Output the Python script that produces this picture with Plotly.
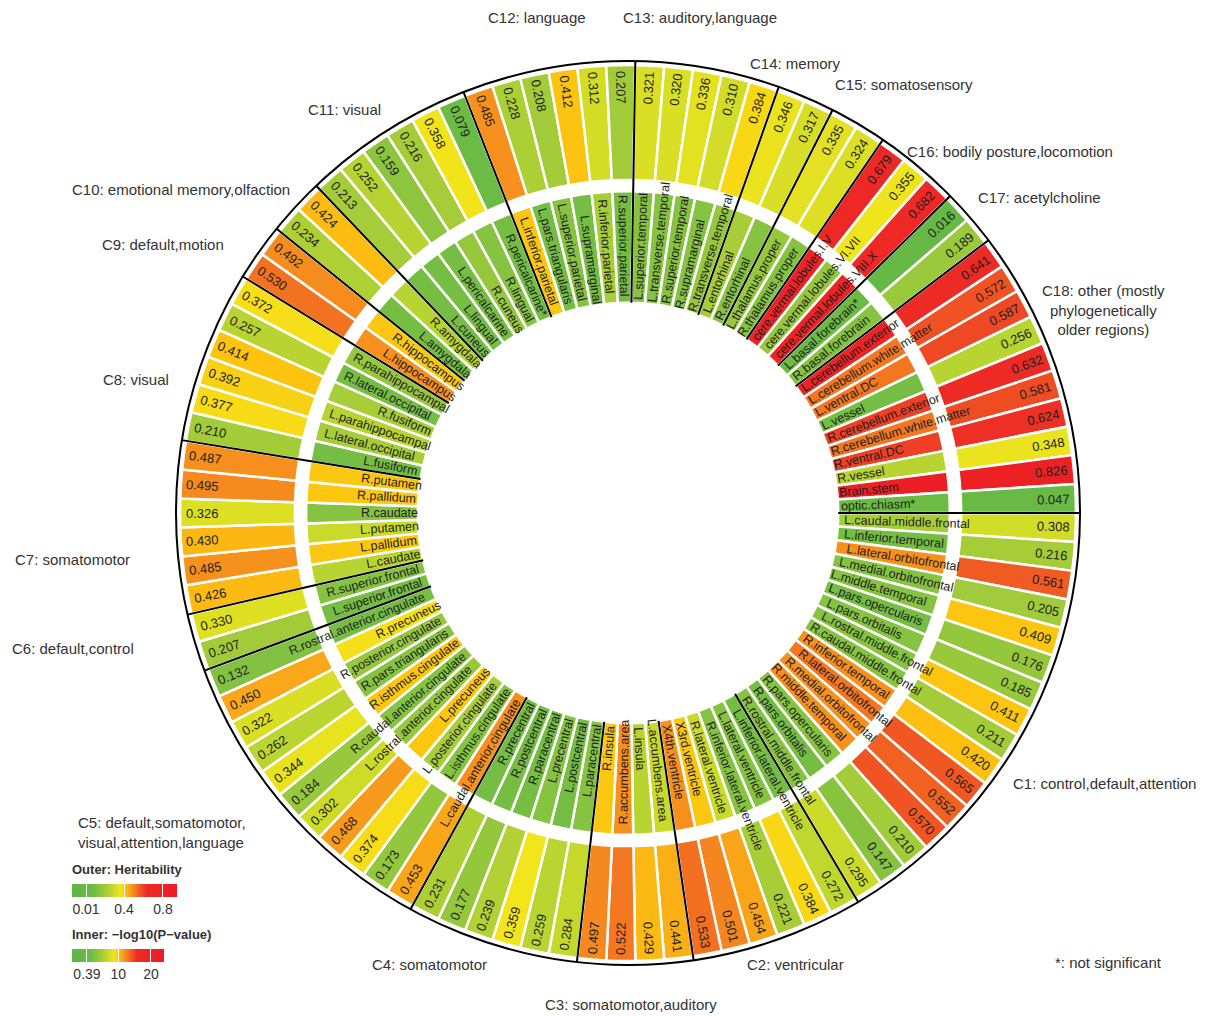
import math
import plotly.graph_objects as go

# clusters (clockwise from 3 o'clock)
cluster_names = ["C1: control,default,attention", "C2: ventricular", "C3: somatomotor,auditory",
                 "C4: somatomotor", "C5: default,somatomotor,<br>visual,attention,language",
                 "C6: default,control", "C7: somatomotor", "C8: visual", "C9: default,motion",
                 "C10: emotional memory,olfaction", "C11: visual", "C12: language",
                 "C13: auditory,language", "C14: memory", "C15: somatosensory",
                 "C16: bodily posture,locomotion", "C17: acetylcholine",
                 "C18: other (mostly<br>phylogenetically<br>older regions)"]
cluster_sizes = [16, 6, 4, 6, 11, 2, 6, 6, 2, 2, 6, 6, 5, 2, 2, 3, 2, 10]

regions = [
    "L.caudal.middle.frontal", "L.inferior.temporal", "L.lateral.orbitofrontal", "L.medial.orbitofrontal",
    "L.middle.temporal", "L.pars.opercularis", "L.pars.orbitalis", "L.rostral.middle.frontal",
    "R.caudal.middle.frontal", "R.inferior.temporal", "R.lateral.orbitofrontal", "R.medial.orbitofrontal",
    "R.middle.temporal", "R.pars.opercularis", "R.pars.orbitalis", "R.rostral.middle.frontal",
    "L.inferior.lateral.ventricle", "L.lateral.ventricle", "R.inferior.lateral.ventricle",
    "R.lateral.ventricle", "X3rd.ventricle", "X4th.ventricle",
    "L.accumbens.area", "L.insula", "R.accumbens.area", "R.insula",
    "L.paracentral", "L.postcentral", "L.precentral", "R.paracentral", "R.postcentral", "R.precentral",
    "L.caudal.anterior.cingulate", "L.isthmus.cingulate", "L.posterior.cingulate", "L.precuneus",
    "L.rostral.anterior.cingulate", "R.caudal.anterior.cingulate", "R.isthmus.cingulate",
    "R.pars.triangularis", "R.posterior.cingulate", "R.precuneus", "R.rostral.anterior.cingulate",
    "L.superior.frontal", "R.superior.frontal",
    "L.caudate", "L.pallidum", "L.putamen", "R.caudate", "R.pallidum", "R.putamen",
    "L.fusiform", "L.lateral.occipital", "L.parahippocampal", "R.fusiform", "R.lateral.occipital",
    "R.parahippocampal",
    "L.hippocampus", "R.hippocampus",
    "L.amygdala", "R.amygdala",
    "L.cuneus", "L.lingual", "L.pericalcarine", "R.cuneus", "R.lingual", "R.pericalcarine*",
    "L.inferior.parietal", "L.pars.triangularis", "L.superior.parietal", "L.supramarginal",
    "R.inferior.parietal", "R.superior.parietal",
    "L.superior.temporal", "L.transverse.temporal", "R.superior.temporal", "R.supramarginal",
    "R.transverse.temporal",
    "L.entorhinal", "R.entorhinal",
    "L.thalamus.proper", "R.thalamus.proper",
    "cere.vermal.lobules.I.V", "cere.vermal.lobules.VI.VII", "cere.vermal.lobules.VIII.X",
    "L.basal.forebrain*", "R.basal.forebrain",
    "L.cerebellum.exterior", "L.cerebellum.white.matter", "L.ventral.DC", "L.vessel",
    "R.cerebellum.exterior", "R.cerebellum.white.matter", "R.ventral.DC", "R.vessel",
    "Brain.stem", "optic.chiasm*",
]

heritability = [
    0.308, 0.216, 0.561, 0.205, 0.409, 0.176, 0.185, 0.411,
    0.211, 0.420, 0.565, 0.552, 0.570, 0.210, 0.147, 0.295,
    0.272, 0.384, 0.221, 0.454, 0.501, 0.533,
    0.441, 0.429, 0.522, 0.497,
    0.284, 0.259, 0.359, 0.239, 0.177, 0.231,
    0.453, 0.173, 0.374, 0.468, 0.302, 0.184, 0.344, 0.262, 0.322, 0.450, 0.132,
    0.207, 0.330,
    0.426, 0.485, 0.430, 0.326, 0.495, 0.487,
    0.210, 0.377, 0.392, 0.414, 0.257, 0.372,
    0.530, 0.492,
    0.234, 0.424,
    0.213, 0.252, 0.159, 0.216, 0.358, 0.079,
    0.485, 0.228, 0.208, 0.412, 0.312, 0.207,
    0.321, 0.320, 0.336, 0.310, 0.384,
    0.346, 0.317,
    0.335, 0.324,
    0.679, 0.355, 0.682,
    0.016, 0.189,
    0.641, 0.572, 0.587, 0.256, 0.632, 0.581, 0.624, 0.348, 0.826, 0.047,
]

# -log10(P) estimated from inner ring colours
neglog_p = [
    5, 2, 12, 3, 3, 2, 3, 3, 3, 12, 13, 12, 12, 3, 2, 3,
    2, 3, 3, 7, 10, 12,
    7, 6, 12, 10,
    3, 2, 3, 2, 2, 2,
    12, 3, 5, 10, 4, 3, 10, 3, 4, 9, 2,
    2, 3,
    6, 10, 7, 3, 10, 10,
    2, 5, 6, 5, 2, 4,
    12, 10,
    2, 6,
    2, 2, 2, 4, 3, 2,
    10, 2, 3, 2, 5, 2,
    3, 3, 3, 3, 4,
    5, 3,
    4, 3,
    20, 4, 20,
    1, 3,
    20, 13, 13, 2, 15, 13, 15, 6, 22, 1,
]

scale = [[0, "#5cb646"], [0.2, "#6cbb45"], [0.31, "#9fca3b"], [0.40, "#cbdb2a"],
         [0.46, "#f4e51a"], [0.51, "#fdc20f"], [0.55, "#f9a11b"], [0.60, "#f47f20"],
         [0.65, "#f05623"], [0.71, "#ee2a25"], [1, "#ec1c24"]]

W, H = 1229, 1016
CX, CY, R = 620, 505, 452
n = len(regions)
w = 360.0 / n
theta = [(i + 0.5) * w for i in range(n)]

IN0, IN1, OUT0, OUT1 = 0.465, 0.712, 0.737, 0.991


def cbar(xl, yt, length, vals):
    return dict(orientation="h", x=xl / W, xanchor="left", y=1 - yt / H, yanchor="top",
                len=length / W, thickness=13, outlinewidth=0, xpad=0, ypad=0,
                tickvals=vals, ticktext=[str(v) for v in vals], ticks="inside", tickcolor="white",
                ticklen=13, tickfont=dict(size=14, color="#333"))


fig = go.Figure()
fig.add_trace(go.Barpolar(
    theta=theta, r=[IN1 - IN0] * n, base=IN0, width=w,
    marker=dict(color=neglog_p, colorscale=scale, cmin=-4.2, cmax=24,
                line=dict(color="white", width=2.5),
                colorbar=cbar(64, 941, 92, [0.39, 10, 20])),
    hoverinfo="skip", showlegend=False))
fig.add_trace(go.Barpolar(
    theta=theta, r=[OUT1 - OUT0] * n, base=OUT0, width=w,
    marker=dict(color=heritability, colorscale=scale, cmin=-0.134, cmax=0.944,
                line=dict(color="white", width=2.5),
                colorbar=cbar(64, 876, 105, [0.01, 0.4, 0.8])),
    hoverinfo="skip", showlegend=False))

# cluster boundaries
bt, br = [], []
acc = 0
for s in cluster_sizes:
    bt += [acc * w, acc * w, None]
    br += [IN0, 1.0, None]
    acc += s
fig.add_trace(go.Scatterpolar(theta=bt, r=br, mode="lines", line=dict(color="black", width=2),
                              hoverinfo="skip", showlegend=False))


def to_paper(r_px, ang):
    a = math.radians(ang)
    return (CX + r_px * math.cos(a)) / W, 1 - (CY + r_px * math.sin(a)) / H


def rot(ang):
    a = ((ang + 180) % 360) - 180
    if -90 <= a <= 90:
        return a
    return a - 180 if a > 0 else a + 180


ann = []
for i in range(n):
    ang = theta[i]
    x, y = to_paper(OUT1 * R - 22, ang)
    ann.append(dict(x=x, y=y, xref="paper", yref="paper", text="%.3f" % heritability[i],
                    showarrow=False, xanchor="center", yanchor="middle",
                    textangle=rot(ang), font=dict(size=13, color="#231f20")))
    lw = len(regions[i]) * 5.7
    x, y = to_paper(IN0 * R + 3 + lw / 2, ang)
    ann.append(dict(x=x, y=y, xref="paper", yref="paper", text=regions[i], showarrow=False,
                    xanchor="center", yanchor="middle",
                    textangle=rot(ang), font=dict(size=12.5, color="#231f20")))

# cluster label placement (left x, centre y in pixels)
label_pos = [(1013, 783), (747, 964), (545, 1004), (372, 964), (78, 832), (12, 648), (15, 559),
             (103, 379), (102, 244), (72, 189), (308, 109), (488, 18), (623, 18), (750, 63),
             (835, 85), (907, 152), (978, 197), (1042, 310)]
for name, (px, py) in zip(cluster_names, label_pos):
    ann.append(dict(x=(px - 10) / W, y=1 - (py - 8) / H, xref="paper", yref="paper", text=name,
                    showarrow=False, xanchor="left", yanchor="middle",
                    align="center" if "C18" in name else "left",
                    font=dict(size=15, color="#333")))
ann.append(dict(x=1045 / W, y=1 - 954 / H, xref="paper", yref="paper", text="*: not significant",
                showarrow=False, xanchor="left", yanchor="middle", font=dict(size=15, color="#333")))
ann.append(dict(x=62 / W, y=1 - 861 / H, xref="paper", yref="paper", text="<b>Outer: Heritability</b>",
                showarrow=False, xanchor="left", yanchor="middle", font=dict(size=13, color="#333")))
ann.append(dict(x=62 / W, y=1 - 926 / H, xref="paper", yref="paper",
                text="<b>Inner: \u2212log10(P\u2212value)</b>",
                showarrow=False, xanchor="left", yanchor="middle", font=dict(size=13, color="#333")))

fig.update_layout(
    width=W, height=H, margin=dict(l=0, r=0, t=0, b=0),
    paper_bgcolor="white", plot_bgcolor="white",
    font=dict(family="Arial, Liberation Sans, sans-serif"),
    polar=dict(
        domain=dict(x=[(CX - R) / W, (CX + R) / W], y=[(H - CY - R) / H, (H - CY + R) / H]),
        bgcolor="white", bargap=0,
        radialaxis=dict(range=[0, 1], visible=False),
        angularaxis=dict(direction="clockwise", rotation=0, showgrid=False, showticklabels=False,
                         ticks="", showline=True, linecolor="black", linewidth=2),
    ),
    annotations=ann,
)

fig.write_html("out.html")
